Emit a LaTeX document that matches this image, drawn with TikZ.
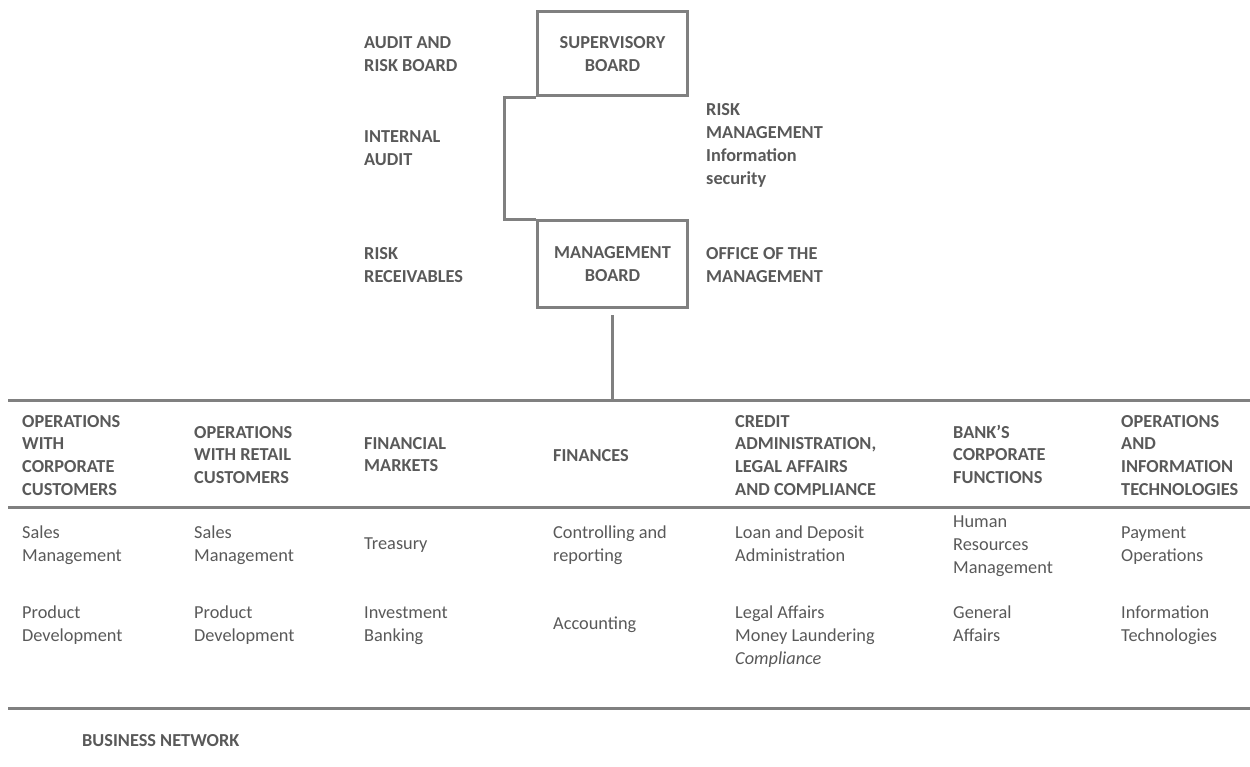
\documentclass[tikz,border=0pt]{standalone}
\usepackage{fontspec}
\setmainfont{Carlito}
\definecolor{txt}{HTML}{595959}
\definecolor{ln}{HTML}{808080}
\newcommand\Tp{\rule{0pt}{15pt}}
\begin{document}
\begin{tikzpicture}[x=1pt,y=-1pt,
  every node/.style={text=txt},
  box/.style={draw=ln, line width=3pt, minimum width=150pt, inner sep=0pt, align=center,
    font=\fontsize{18.3}{23}\selectfont\bfseries},
  lbl/.style={anchor=north west, inner sep=0pt, align=left,
    font=\fontsize{18.3}{23}\selectfont},
  hd/.style={lbl, font=\fontsize{18.3}{22.7}\selectfont\bfseries},
  tb/.style={lbl, font=\fontsize{18.3}{23}\selectfont\bfseries},
  hline/.style={draw=ln, line width=3pt}]
\useasboundingbox (0,0) rectangle (1250,767);

% boards
\node[box, minimum height=84pt] (sup) at (612.5,54) {SUPERVISORY\\BOARD};
\node[box, minimum height=86.5pt] (mgmt) at (612.5,264.25) {MANAGEMENT\\BOARD};
\draw[hline] (sup.south west) -- ++(-32,0) |- (mgmt.north west);

% side labels
\node[tb] (arb) at (364,33) {\Tp AUDIT AND\\RISK BOARD};
\node[tb] (ia) at (364,127) {\Tp INTERNAL\\AUDIT};
\node[tb] (rr) at (364,244) {\Tp RISK\\RECEIVABLES};
\node[tb] (rm) at (706,100) {\Tp RISK\\MANAGEMENT\\Information\\security};
\node[tb] (om) at (706,244) {\Tp OFFICE OF THE\\MANAGEMENT};

% table lines
\coordinate (ttop) at (612.5,400);
\coordinate (tl) at (8,400);
\coordinate (tr) at (1250,400);
\coordinate (hl) at (8,507);
\coordinate (hr) at (1250,507);
\coordinate (bl) at (8,708);
\coordinate (br) at (1250,708);
\draw[hline] (tl) -- (tr);
\draw[hline] (hl) -- (hr);
\draw[hline] (bl) -- (br);
\draw[hline, shorten <=6pt] (mgmt) -- (ttop);

% headers
\node[hd] (h1) at (22,412) {\Tp OPERATIONS\\WITH\\CORPORATE\\CUSTOMERS};
\node[hd] (h2) at (194,423) {\Tp OPERATIONS\\WITH RETAIL\\CUSTOMERS};
\node[hd] (h3) at (364,434) {\Tp FINANCIAL\\MARKETS};
\node[hd] (h4) at (553,446) {\Tp FINANCES};
\node[hd] (h5) at (735,412) {\Tp CREDIT\\ADMINISTRATION,\\LEGAL AFFAIRS\\AND COMPLIANCE};
\node[hd] (h6) at (953,423) {\Tp BANK’S\\CORPORATE\\FUNCTIONS};
\node[hd] (h7) at (1121,412) {\Tp OPERATIONS\\AND\\INFORMATION\\TECHNOLOGIES};

% row 1
\node[lbl] (a1) at (22,523) {\Tp Sales\\Management};
\node[lbl] (a2) at (194,523) {\Tp Sales\\Management};
\node[lbl] (a3) at (364,534) {\Tp Treasury};
\node[lbl] (a4) at (553,523) {\Tp Controlling and\\reporting};
\node[lbl] (a5) at (735,523) {\Tp Loan and Deposit\\Administration};
\node[lbl] (a6) at (953,512) {\Tp Human\\Resources\\Management};
\node[lbl] (a7) at (1121,523) {\Tp Payment\\Operations};

% row 2
\node[lbl] (b1) at (22,603) {\Tp Product\\Development};
\node[lbl] (b2) at (194,603) {\Tp Product\\Development};
\node[lbl] (b3) at (364,603) {\Tp Investment\\Banking};
\node[lbl] (b4) at (553,614) {\Tp Accounting};
\node[lbl] (b5) at (735,603) {\Tp Legal Affairs\\Money Laundering\\\textit{Compliance}};
\node[lbl] (b6) at (953,603) {\Tp General\\Affairs};
\node[lbl] (b7) at (1121,603) {\Tp Information\\Technologies};

% footer
\node[tb] (bn) at (82,731) {\Tp BUSINESS NETWORK};
\end{tikzpicture}
\end{document}
